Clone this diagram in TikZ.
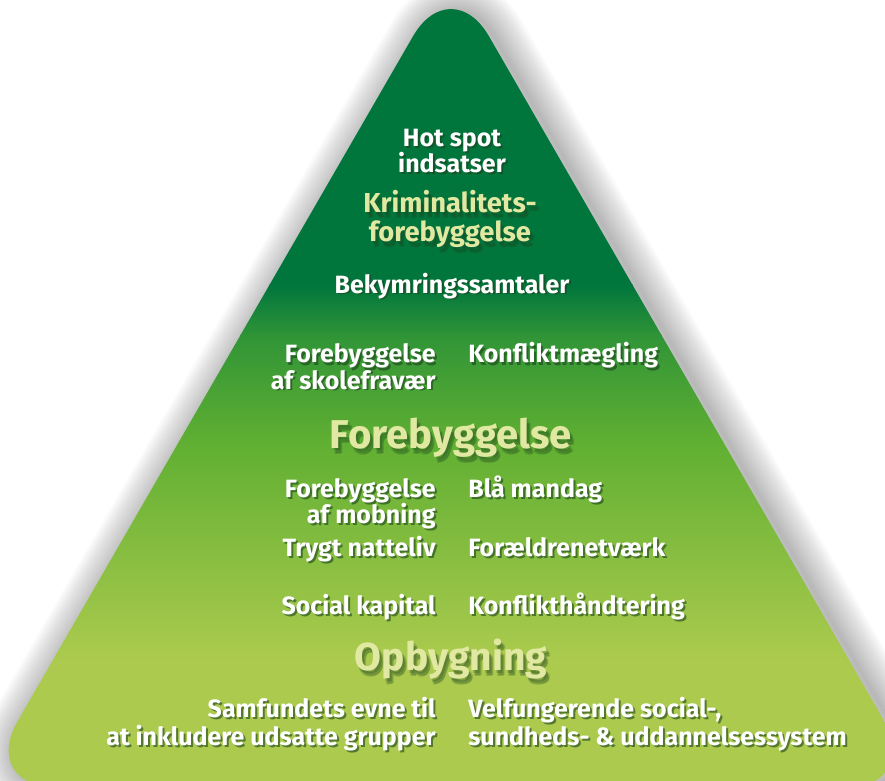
\documentclass[tikz,border=0pt]{standalone}
\usepackage{fontspec}
\newfontfamily\pyr{Fira Sans}
\definecolor{g0}{RGB}{0,118,61}
\definecolor{g1}{RGB}{48,148,55}
\definecolor{g2}{RGB}{95,175,50}
\definecolor{g3}{RGB}{172,203,78}
\definecolor{headcol}{RGB}{224,232,162}
\definecolor{shcol}{RGB}{28,66,28}
\newcommand\shtxt[5]{%
  \node[#4, anchor=#3, text=shcol, opacity=0.6] at ([shift={(2,2)}]#2) {#5};
  \node[#4, anchor=#3] (#1) at (#2) {#5};}
\newcommand\shhead[5]{%
  \foreach \dx/\dy in {2/3,4/5,3/6}{\node[#4, anchor=#3, text=shcol, opacity=0.22] at ([shift={(\dx,\dy)}]#2) {#5};}
  \node[#4, anchor=#3] (#1) at (#2) {#5};}
\begin{document}
\begin{tikzpicture}[x=0.5pt,y=-0.5pt,
  txt/.style={inner sep=0pt, font=\pyr\bfseries\fontsize{12.5}{13}\selectfont, text=white},
  krim/.style={inner sep=0pt, font=\pyr\bfseries\fontsize{13.7}{14}\selectfont, text=headcol},
  head/.style={inner sep=0pt, font=\pyr\bfseries\fontsize{20.1}{21}\selectfont, text=headcol},
  headL/.style={inner sep=0pt, font=\pyr\bfseries\fontsize{19.5}{21}\selectfont, text=headcol},
  tri/.style={rounded corners=38pt}]
\useasboundingbox (0,0) rectangle (885,781);
\coordinate (A) at (451,-29.5);
\coordinate (B) at (922.4,787);
\coordinate (C) at (-20.4,787);
\coordinate (M) at (451,787);
% glow / shadow
\begin{scope}[transform canvas={shift={(3pt,-1pt)}}]
\foreach \w in {4,8,...,64}{
  \draw[tri, line join=round, line width=\w*0.5pt, black, opacity=0.02] (M) -- (B) -- (A) -- (C) -- cycle;}
\end{scope}
% gradient fill
\begin{scope}
\clip[tri] (M) -- (B) -- (A) -- (C) -- cycle;
\fill[g0] (-40,-40) rectangle (940,286);
\shade[top color=g0, bottom color=g1] (-40,285) rectangle (940,336);
\shade[top color=g1, bottom color=g2] (-40,335) rectangle (940,441);
\shade[top color=g2, bottom color=g3] (-40,440) rectangle (940,661);
\fill[g3] (-40,660) rectangle (940,800);
\end{scope}
% texts
\shtxt{hot1}{452,147}{base}{txt}{Hot spot}
\shtxt{hot2}{452,173}{base}{txt}{indsatser}
\shhead{krim1}{450,213}{base}{krim}{Kriminalitets-}
\shhead{krim2}{450,242}{base}{krim}{forebyggelse}
\shtxt{bek}{452,293}{base}{txt}{Bekymringssamtaler}
\shtxt{fs1}{436,363}{base east}{txt}{Forebyggelse}
\shtxt{fs2}{436,389}{base east}{txt}{af skolefravær}
\shtxt{km}{468,363}{base west}{txt}{Konfliktmægling}
\shhead{fore}{451,448}{base}{head}{Forebyggelse}
\shtxt{fm1}{436,497}{base east}{txt}{Forebyggelse}
\shtxt{fm2}{436,523}{base east}{txt}{af mobning}
\shtxt{bm}{468,497}{base west}{txt}{Blå mandag}
\shtxt{tn}{436,556}{base east}{txt}{Trygt natteliv}
\shtxt{fn}{468,556}{base west}{txt}{Forældrenetværk}
\shtxt{sk}{436,614}{base east}{txt}{Social kapital}
\shtxt{kh}{468,614}{base west}{txt}{Konflikthåndtering}
\shhead{opb}{451,670}{base}{headL}{Opbygning}
\shtxt{sa1}{436,717}{base east}{txt}{Samfundets evne til}
\shtxt{sa2}{436,745}{base east}{txt}{at inkludere udsatte grupper}
\shtxt{ve1}{468,717}{base west}{txt}{Velfungerende social-,}
\shtxt{ve2}{468,745}{base west}{txt}{sundheds- \& uddannelsessystem}
\end{tikzpicture}
\end{document}
